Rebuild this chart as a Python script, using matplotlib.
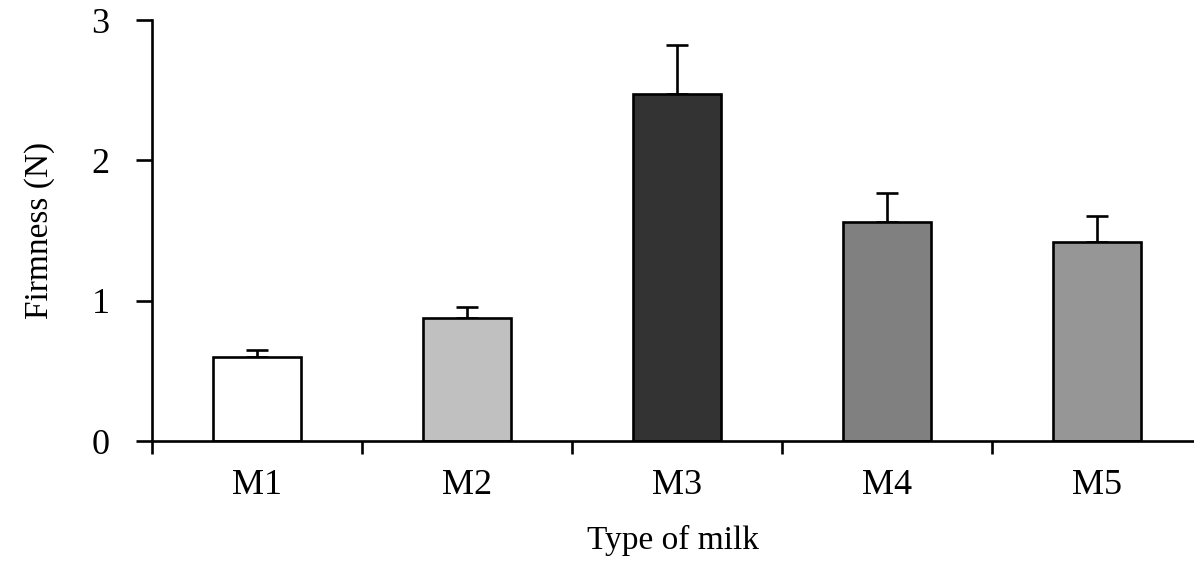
import numpy as np
import matplotlib
matplotlib.use('Agg')
import matplotlib.pyplot as plt

plt.rcParams['font.family'] = ['Liberation Serif', 'DejaVu Serif']

# firmness per milk type (N), mean and upper error
milk_types = ['M1', 'M2', 'M3', 'M4', 'M5']
firmness = [0.60, 0.88, 2.47, 1.56, 1.42]
firmness_err = [0.045, 0.075, 0.35, 0.21, 0.18]
bar_colors = ['#ffffff', '#c0c0c0', '#333333', '#808080', '#969696']

fig = plt.figure(figsize=(11.94, 5.61), dpi=100)
ax = fig.add_axes([0.1273, 0.2139, 0.8727, 0.7504])

x = np.arange(len(milk_types))
ax.bar(x, firmness, width=0.42, color=bar_colors, edgecolor='black',
       linewidth=1.9, zorder=2)
ax.errorbar(x, firmness, yerr=[np.zeros(len(x)), firmness_err], fmt='none',
            ecolor='black', elinewidth=1.9, capsize=8, capthick=1.9, zorder=1)

ax.set_xlim(-0.5, 4.46)
ax.set_ylim(0, 3)
ax.set_yticks([0, 1, 2, 3])
ax.set_yticklabels(['0', '1', '2', '3'], fontsize=26)

# boundary ticks on x, category names centred between them
ax.set_xticks(np.arange(-0.5, 4.0, 1.0))
ax.set_xticklabels([])
ax.set_xticks(x, minor=True)
ax.set_xticklabels(milk_types, minor=True, fontsize=26)
ax.tick_params(axis='x', which='major', direction='out', length=9, width=1.9)
ax.tick_params(axis='x', which='minor', length=0, pad=20)
ax.tick_params(axis='y', direction='out', length=11.5, width=1.9, pad=19)

for side in ['top', 'right']:
    ax.spines[side].set_visible(False)
for side in ['left', 'bottom']:
    ax.spines[side].set_linewidth(1.9)

ax.set_xlabel('Type of milk', fontsize=24, labelpad=17)
ax.set_ylabel('Firmness (N)', fontsize=24, labelpad=26)

fig.savefig('out.png', dpi=100)
